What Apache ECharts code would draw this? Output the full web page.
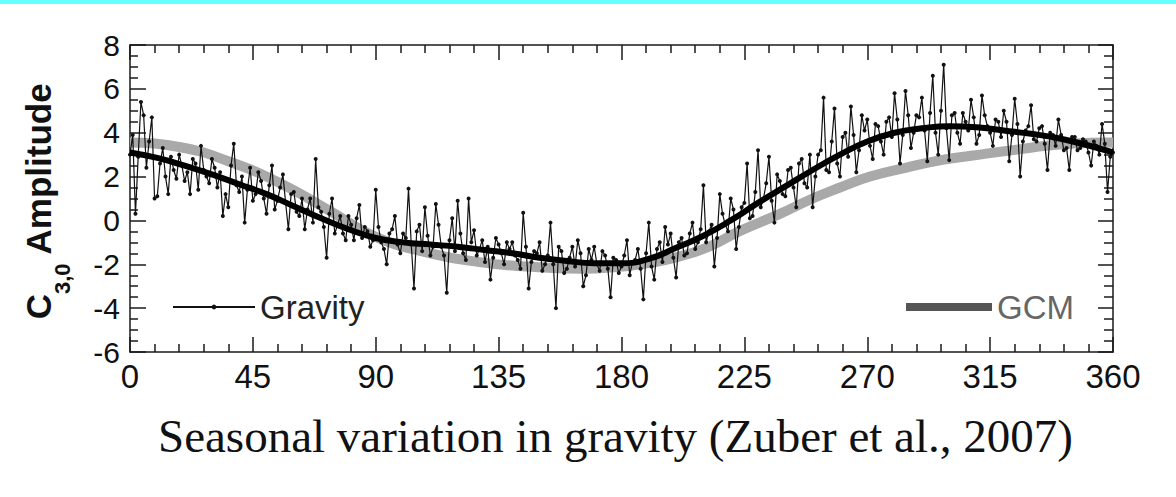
<!DOCTYPE html>
<html>
<head>
<meta charset="utf-8">
<title>Seasonal variation in gravity</title>
<script src="https://cdn.jsdelivr.net/npm/echarts@6/dist/echarts.min.js"></script>
<style>
  html, body { margin: 0; padding: 0; background: #fff; }
  #main { width: 1176px; height: 497px; }
</style>
</head>
<body>
<div id="main"></div>
<script>
// x axis: seasonal longitude Ls (deg)
var xTicks = [0, 45, 90, 135, 180, 225, 270, 315, 360];
var yTicks = [-6, -4, -2, 0, 2, 4, 6, 8];

// gravity C3,0 amplitude (thin line with dots), even Ls
var gravityLs = [0,2,4,6,8,10,12,14,16,18,20,22,24,26,28,30,32,34,36,38,40,42,44,46,48,50,52,54,56,58,
  60,62,64,66,68,70,72,74,76,78,80,82,84,86,88,90,92,94,96,98,100,102,104,106,108,110,112,114,116,118,
  120,122,124,126,128,130,132,134,136,138,140,142,144,146,148,150,152,154,156,158,160,162,164,166,168,170,172,174,176,178,
  180,182,184,186,188,190,192,194,196,198,200,202,204,206,208,210,212,214,216,218,220,222,224,226,228,230,232,234,236,238,
  240,242,244,246,248,250,252,254,256,258,260,262,264,266,268,270,272,274,276,278,280,282,284,286,288,290,292,294,296,298,
  300,302,304,306,308,310,312,314,316,318,320,322,324,326,328,330,332,334,336,338,340,342,344,346,348,350,352,354,356,358,360];
var gravityVal = [3.0,0.3,5.4,2.4,4.7, 1.1,3.3,1.2,2.3,3.0, 1.8,1.2,2.6,3.4,2.0, 2.8,1.5,0.2,0.6,3.5,
  1.3,-0.1,2.4,1.2,1.8, 0.3,2.5,0.9,2.1,-0.4, 1.3,0.2,-0.4,1.0,2.8, 0.4,-1.7,1.0,-0.2,-0.6,
  0.2,-0.9,0.7,-0.3,-1.2, 1.4,-1.0,-2.0,-0.4,-1.1, -0.6,1.45,-3.1,-0.2,0.6, -1.6,0.75,-1.2,-3.3,0.1,
  0.9,-1.5,1.0,-0.45,-1.3, -1.9,-2.7,-0.8,-1.5,-1.0, -1.0,-1.8,0.35,-3.1,-1.4, -1.0,-2.0,-0.1,-4.0,-1.4,
  -2.2,-1.2,-0.9,-3.0,-1.3, -1.2,-2.3,-1.6,-3.5,-1.8, -2.1,-0.9,-1.9,-1.3,-3.6, -0.1,-2.7,-1.0,-0.3,-0.6,
  -2.6,-0.8,-1.5,-0.1,-1.0, 1.6,-0.5,-2.1,1.2,-0.2, 1.0,-1.3,0.6,2.6,0.2, 3.2,1.0,2.9,-0.1,1.8,
  1.1,2.4,0.6,2.8,1.5, 0.6,3.0,5.6,2.2,5.1, 2.0,4.0,5.2,2.2,4.8, 4.6,2.8,4.3,3.0,4.7,
  5.8,2.6,5.9,3.3,4.8, 5.6,2.7,6.6,3.0,7.1, 2.75,4.9,3.5,4.5,5.5, 3.5,5.7,4.3,3.4,4.5,
  5.0,2.7,5.55,2.0,4.1, 5.25,3.6,4.3,2.3,3.9, 4.6,3.2,2.3,3.8,3.3, 3.6,2.5,3.4,4.4,1.3, 3.1];

// gravity, odd Ls
var gravityOddLs = [1,3,5,7,9,11,13,15,17,19,21,23,25,27,29,31,33,35,37,39,41,43,45,47,49,51,53,55,57,59,
  61,63,65,67,69,71,73,75,77,79,81,83,85,87,89,91,93,95,97,99,101,103,105,107,109,111,113,115,117,119,
  121,123,125,127,129,131,133,135,137,139,141,143,145,147,149,151,153,155,157,159,161,163,165,167,169,171,173,175,177,179,
  181,183,185,187,189,191,193,195,197,199,201,203,205,207,209,211,213,215,217,219,221,223,225,227,229,231,233,235,237,239,
  241,243,245,247,249,251,253,255,257,259,261,263,265,267,269,271,273,275,277,279,281,283,285,287,289,291,293,295,297,299,
  301,303,305,307,309,311,313,315,317,319,321,323,325,327,329,331,333,335,337,339,341,343,345,347,349,351,353,355,357,359];
var gravityOddVal = [3.9,2.9,4.8,3.6,1.0, 2.6,2.0,2.9,1.9,2.5, 2.2,2.8,1.4,2.3,1.7, 2.4,2.2,1.2,2.5,1.6,
  2.0,1.4,0.9,2.2,1.0, 1.6,0.5,1.5,0.8,1.2, 0.4,1.0,0.5,-0.1,0.6, -0.3,0.3,-0.6,0.2,-0.9,
  -0.2,0.1,-0.8,-0.5,-0.9, -0.3,-1.3,-0.6,0.2,-1.5, -0.8,-1.1,-0.5,-1.4,-0.7, -1.2,-0.2,-1.6,-0.9,-1.4,
  -0.6,-1.8,-1.0,-1.6,-0.9, -1.2,-1.7,-1.1,-2.0,-1.3, -1.6,-2.2,-1.2,-1.9,-1.5, -2.3,-1.6,-2.0,-1.2,-2.4,
  -1.7,-2.1,-1.5,-2.5,-1.8, -2.0,-1.4,-2.2,-1.7,-2.4, -1.6,-2.5,-1.8,-2.2,-1.5, -2.1,-1.3,-1.9,-1.1,-1.7,
  -1.0,-1.6,-0.6,-1.3,-0.4, -1.0,-0.2,-0.8,0.3,-0.5, 0.5,-0.3,0.8,0.1,1.3, 0.6,1.7,0.9,2.1,1.2,
  2.3,1.5,2.6,1.7,3.0, 2.0,3.2,2.3,3.6,2.6, 3.8,2.9,3.9,3.2,4.1, 3.4,4.4,3.6,4.5,3.8,
  4.6,3.9,4.8,4.0,4.7, 4.1,4.9,4.0,5.0,4.2, 4.8,4.0,4.9,4.1,4.7, 3.9,4.8,4.0,4.6,3.8,
  4.5,3.9,4.4,3.6,4.3, 3.7,4.2,3.5,4.0,3.4, 3.9,3.3,3.8,3.2,3.7, 3.1,3.6,3.0,3.5,2.9];

// fitted curve (thick black)
var fitLs = [0,10,20,30,40,50,60,70,80,90,100,110,120,130,140,150,160,170,180,190,200,210,220,230,240,250,260,270,280,290,300,310,320,330,340,350,360];
var fitVal = [3.1,2.85,2.5,2.1,1.65,1.2,0.65,0.1,-0.4,-0.8,-1.0,-1.1,-1.2,-1.35,-1.5,-1.7,-1.85,-1.95,-1.95,-1.75,-1.25,-0.7,0.0,0.8,1.55,2.3,3.0,3.6,4.0,4.2,4.3,4.25,4.1,3.95,3.75,3.45,3.1];

// GCM model (thick light gray)
var gcmLs = [0,18,36,55,73,90,110,128,145,165,180,190,201,212,223,238,250,260,271,284,297,308,326,344,360];
var gcmVal = [3.55,3.35,2.7,1.7,0.45,-0.75,-1.5,-1.9,-2.1,-2.2,-2.1,-1.95,-1.65,-1.2,-0.5,0.3,1.0,1.5,2.0,2.4,2.75,2.95,3.25,3.5,3.55];

function pairs(xs, ys) {
  var out = [];
  for (var i = 0; i < xs.length; i++) {
    out.push([xs[i], ys[i]]);
  }
  return out;
}

// merge even and odd gravity samples in Ls order
var gravityData = pairs(gravityLs, gravityVal).concat(pairs(gravityOddLs, gravityOddVal));
gravityData.sort(function (a, b) { return a[0] - b[0]; });

var chart = echarts.init(document.getElementById('main'), null, { renderer: 'svg' });
var font = '"Liberation Sans", Arial, Helvetica, sans-serif';
var axisColor = '#1a1a1a';

function frameAxis(extra) {
  var ax = {
    type: 'value',
    axisLine: { onZero: false, lineStyle: { color: axisColor, width: 1.5 } },
    axisTick: { inside: true, length: 15, lineStyle: { color: axisColor, width: 1.5 } },
    minorTick: { show: true, length: 8, lineStyle: { color: axisColor, width: 1.5 } },
    splitLine: { show: false },
    axisLabel: { show: false }
  };
  for (var k in extra) ax[k] = extra[k];
  return ax;
}

var xBottom = frameAxis({ min: 0, max: 360, interval: 45,
  axisLabel: { fontFamily: font, fontSize: 33, color: '#111', margin: 8 } });
xBottom.minorTick.splitNumber = 5;
var xTop = frameAxis({ min: 0, max: 360, interval: 45, position: 'top' });
xTop.minorTick.splitNumber = 5;

var yLeft = frameAxis({ min: -6, max: 8, interval: 2,
  axisLabel: { fontFamily: font, fontSize: 30, color: '#111', margin: 10 } });
yLeft.axisTick.length = 16;
yLeft.minorTick.splitNumber = 4;
var yRight = frameAxis({ min: -6, max: 8, interval: 2, position: 'right' });
yRight.minorTick.splitNumber = 4;
yRight.minorTick.length = 9;

var option = {
  animation: false,
  backgroundColor: '#fff',
  grid: { left: 130, top: 45, width: 983, height: 307 },
  legend: [
    {
      left: 167, top: 284,
      itemWidth: 82, itemHeight: 6,
      textStyle: { fontFamily: font, fontSize: 33, color: '#222', lineHeight: 36 },
      data: ['Gravity']
    },
    {
      left: 901, top: 284,
      itemWidth: 86, itemHeight: 8,
      textStyle: { fontFamily: font, fontSize: 33, color: '#666', lineHeight: 36 },
      data: [{ name: 'GCM', icon: 'rect', itemStyle: { color: '#555' } }]
    }
  ],
  xAxis: [xBottom, xTop],
  yAxis: [yLeft, yRight],
  series: [
    {
      name: 'GCM',
      type: 'line',
      smooth: 0.5,
      symbol: 'none',
      data: pairs(gcmLs, gcmVal),
      lineStyle: { color: '#a9a9a9', width: 10 },
      itemStyle: { color: '#555' },
      z: 1
    },
    {
      name: 'Gravity',
      type: 'line',
      symbol: 'circle',
      symbolSize: 4,
      data: gravityData,
      lineStyle: { color: '#111', width: 1.2 },
      itemStyle: { color: '#111' },
      z: 2
    },
    {
      name: 'Fit',
      type: 'line',
      smooth: 0.5,
      symbol: 'none',
      data: pairs(fitLs, fitVal),
      lineStyle: { color: '#000', width: 6 },
      z: 3
    }
  ],
  graphic: [
    { type: 'rect', left: 0, top: 0, shape: { width: 1176, height: 4 }, style: { fill: '#66ffff' } },
    {
      // y axis title, rotated, with subscript
      type: 'text', x: 47, y: 201, rotation: Math.PI / 2,
      style: {
        text: '{c|C}{s|3,0}{a| Amplitude}',
        align: 'center',
        verticalAlign: 'middle',
        rich: {
          c: { fontFamily: font, fontSize: 35, fontWeight: 'bold', fill: '#111', lineHeight: 35, verticalAlign: 'top' },
          a: { fontFamily: font, fontSize: 35, fontWeight: 'bold', fill: '#111', lineHeight: 35, verticalAlign: 'top' },
          s: { fontFamily: font, fontSize: 22, fontWeight: 'bold', fill: '#111', lineHeight: 52, verticalAlign: 'bottom' }
        }
      }
    },
    {
      type: 'text', left: 158, top: 412,
      style: {
        text: 'Seasonal variation in gravity (Zuber et al., 2007)',
        font: '47px "Liberation Serif", "Times New Roman", serif',
        fill: '#111'
      }
    }
  ]
};

chart.setOption(option);
</script>
</body>
</html>
